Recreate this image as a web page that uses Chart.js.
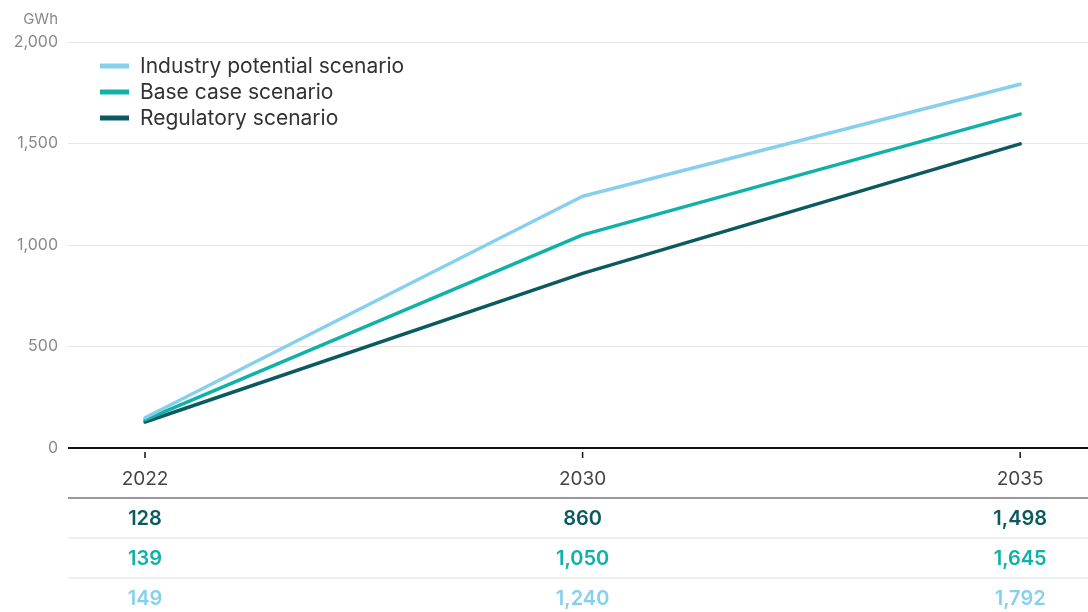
<!DOCTYPE html>
<html>
<head>
<meta charset="utf-8">
<script src="https://cdn.jsdelivr.net/npm/chart.js@4"></script>
<style>
  html, body { margin: 0; padding: 0; background: #fff; }
  #wrap { width: 1088px; height: 612px; }
</style>
</head>
<body>
<div id="wrap"><canvas id="chart" width="1088" height="612"></canvas></div>
<script>
// Datos del gráfico
const years = ['2022', '2030', '2035'];
const regulatory = [128, 860, 1498];
const baseCase = [139, 1050, 1645];
const industry = [149, 1240, 1792];
const yTicks = [0, 500, 1000, 1500, 2000];

const seriesNames = ['Industry potential scenario', 'Base case scenario', 'Regulatory scenario'];
const colors = {
    industry: '#86d0ee',
    base: '#10b1a9',
    regulatory: '#0b5a61'
};

const FONT = "Inter, 'Liberation Sans', Arial, sans-serif";

function fmt(v) {
    return v.toLocaleString('en-US');
}

function toPoints(values) {
    return values.map((v, i) => ({ x: i, y: v }));
}

// Leyenda, unidad, marcas y la tabla de valores
const extras = {
    id: 'extras',
    afterDraw(chart) {
        const ctx = chart.ctx;
        const area = chart.chartArea;
        const xs = chart.scales.x;
        ctx.save();

        // unidad
        ctx.fillStyle = '#888';
        ctx.font = '15px ' + FONT;
        ctx.textAlign = 'right';
        ctx.textBaseline = 'middle';
        ctx.fillText('GWh', 58, 19);

        // leyenda
        const legendColors = [colors.industry, colors.base, colors.regulatory];
        ctx.font = '21px ' + FONT;
        ctx.textAlign = 'left';
        seriesNames.forEach((name, i) => {
            const y = 66 + i * 26;
            ctx.strokeStyle = legendColors[i];
            ctx.lineWidth = 5;
            ctx.lineCap = 'butt';
            ctx.beginPath();
            ctx.moveTo(100, y);
            ctx.lineTo(129, y);
            ctx.stroke();
            ctx.fillStyle = '#333';
            ctx.fillText(name, 140, y + 1);
        });

        // marcas y años
        ctx.strokeStyle = '#111';
        ctx.lineWidth = 1.5;
        ctx.font = '19px ' + FONT;
        ctx.textAlign = 'center';
        years.forEach((yr, i) => {
            const x = xs.getPixelForValue(i);
            ctx.beginPath();
            ctx.moveTo(x, area.bottom + 4);
            ctx.lineTo(x, area.bottom + 10);
            ctx.stroke();
            ctx.fillStyle = '#444';
            ctx.fillText(yr, x, area.bottom + 31);
        });

        // líneas de la tabla
        const rowLines = [498, 538, 578];
        rowLines.forEach((y, i) => {
            ctx.strokeStyle = i === 0 ? '#777' : '#ddd';
            ctx.lineWidth = i === 0 ? 1.5 : 1;
            ctx.beginPath();
            ctx.moveTo(area.left, y);
            ctx.lineTo(chart.width, y);
            ctx.stroke();
        });

        // valores
        const rows = [
            [regulatory, colors.regulatory],
            [baseCase, colors.base],
            [industry, colors.industry]
        ];
        ctx.font = '600 20px ' + FONT;
        rows.forEach(([vals, col], r) => {
            ctx.fillStyle = col;
            vals.forEach((v, i) => {
                ctx.fillText(fmt(v), xs.getPixelForValue(i), 519 + r * 40);
            });
        });

        ctx.restore();
    }
};

const ctx = document.getElementById('chart').getContext('2d');
new Chart(ctx, {
    type: 'line',
    data: {
        labels: years,
        datasets: [
            { label: seriesNames[0], data: toPoints(industry), borderColor: colors.industry },
            { label: seriesNames[1], data: toPoints(baseCase), borderColor: colors.base },
            { label: seriesNames[2], data: toPoints(regulatory), borderColor: colors.regulatory }
        ].map(d => Object.assign(d, {
            borderWidth: 3.5,
            pointRadius: 0,
            tension: 0,
            fill: false,
            borderCapStyle: 'round',
            borderJoinStyle: 'round'
        }))
    },
    options: {
        responsive: false,
        animation: false,
        layout: { padding: { top: 42, bottom: 164, right: 0, left: 0 } },
        plugins: {
            legend: { display: false },
            tooltip: { enabled: false }
        },
        scales: {
            x: {
                type: 'linear',
                min: -0.176,
                max: 2.155,
                display: false
            },
            y: {
                min: 0,
                max: 2000,
                afterBuildTicks: s => { s.ticks = yTicks.map(v => ({ value: v })); },
                afterFit: s => { s.width = 68; },
                border: { display: false },
                grid: {
                    drawTicks: false,
                    color: c => c.tick.value === 0 ? '#111' : '#e6e6e6',
                    lineWidth: c => c.tick.value === 0 ? 2 : 1
                },
                ticks: {
                    padding: 10,
                    color: '#888',
                    font: { family: FONT, size: 16 },
                    callback: v => fmt(v)
                }
            }
        }
    },
    plugins: [extras]
});
</script>
</body>
</html>
